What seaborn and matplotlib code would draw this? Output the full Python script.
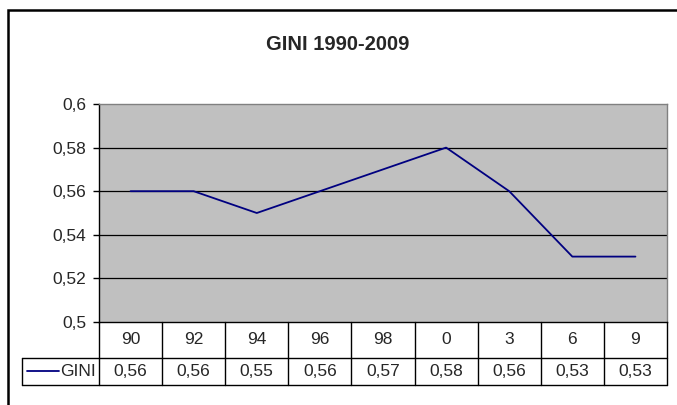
import matplotlib
matplotlib.use("Agg")
import matplotlib.pyplot as plt
import seaborn as sns
import pandas as pd
from matplotlib.lines import Line2D
from matplotlib.patches import Rectangle

# Data
years = ['90', '92', '94', '96', '98', '0', '3', '6', '9']
gini = [0.56, 0.56, 0.55, 0.56, 0.57, 0.58, 0.56, 0.53, 0.53]
y_ticks = [0.5, 0.52, 0.54, 0.56, 0.58, 0.6]

df = pd.DataFrame({'pos': range(len(years)), 'GINI': gini})

sns.set_style('white')
plt.rcParams['font.family'] = ['Liberation Sans', 'DejaVu Sans']

W, H = 677, 405
fig = plt.figure(figsize=(W / 100, H / 100), dpi=100)

# plot area in pixels
L, R, T, B = 99, 667, 104, 322
ax = fig.add_axes([L / W, 1 - B / H, (R - L) / W, (B - T) / H])
ax.set_facecolor('#c0c0c0')

sns.lineplot(data=df, x='pos', y='GINI', ax=ax, color='#000080', linewidth=1.3)

ax.set_xlim(-0.5, len(years) - 0.5)
ax.set_ylim(0.5, 0.6)
ax.set_yticks(y_ticks)
ax.set_yticklabels([('%g' % v).replace('.', ',') for v in y_ticks], fontsize=12.5)
ax.set_xticks([])
ax.set_xlabel('')
ax.set_ylabel('')
ax.tick_params(axis='y', direction='out', length=4, width=1, color='black', pad=5, left=True)
for v in y_ticks[1:-1]:
    ax.axhline(v, color='black', linewidth=0.9, zorder=1)
for s in ['top', 'right']:
    ax.spines[s].set_color('#808080')
    ax.spines[s].set_linewidth(1)
for s in ['left', 'bottom']:
    ax.spines[s].set_color('black')
    ax.spines[s].set_linewidth(1)

# title
fig.text(338 / W, 1 - 45 / H, 'GINI 1990-2009', ha='center', va='center',
         fontsize=14.5, fontweight='bold')


def px(x, y):
    return x / W, 1 - y / H


def hline(x0, x1, y):
    a, b = px(x0, y)
    c, d = px(x1, y)
    fig.add_artist(Line2D([a, c], [b, d], color='black', linewidth=1))


def vline(x, y0, y1):
    a, b = px(x, y0)
    c, d = px(x, y1)
    fig.add_artist(Line2D([a, c], [b, d], color='black', linewidth=1))


# data table below the plot
r1_bot, r2_bot = 358, 385
legend_left = 22
cw = (R - L) / len(years)
hline(legend_left, R, r1_bot)
hline(legend_left, R, r2_bot)
vline(legend_left, r1_bot, r2_bot)
for i in range(len(years) + 1):
    vline(L + i * cw, B, r2_bot)
for i, (yr, g) in enumerate(zip(years, gini)):
    cx = L + (i + 0.5) * cw
    fig.text(*px(cx, 340), yr, ha='center', va='center', fontsize=12.5)
    fig.text(*px(cx, 371), ('%.2f' % g).replace('.', ','), ha='center', va='center', fontsize=12.5)

# legend key in the table
a, b = px(27, 371)
c, d = px(59, 371)
fig.add_artist(Line2D([a, c], [b, d], color='#000080', linewidth=1.3))
fig.text(*px(60, 371), 'GINI', ha='left', va='center', fontsize=12.5)

# outer chart frame (cut off at right and bottom)
fig.add_artist(Rectangle(px(8, 420), 720 / W, 410 / H, fill=False,
                         edgecolor='black', linewidth=1.8, transform=fig.transFigure))

fig.savefig('out.png', dpi=100)
